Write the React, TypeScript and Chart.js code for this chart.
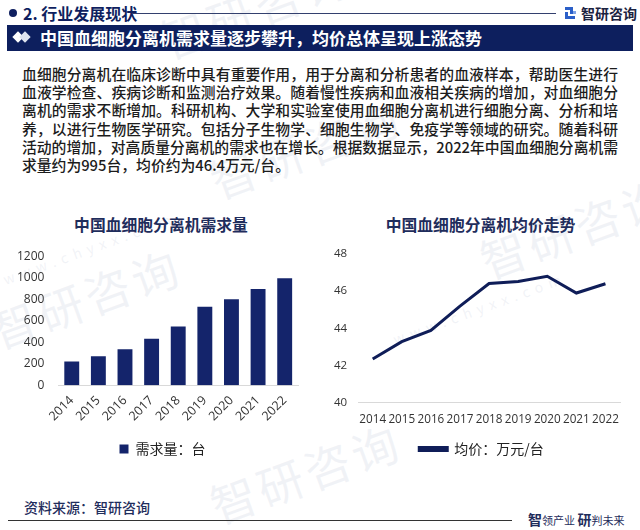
import React, { useEffect, useRef } from "react";
import { Chart, registerables } from "chart.js";

Chart.register(...registerables);

const years = ["2014", "2015", "2016", "2017", "2018", "2019", "2020", "2021", "2022"];
const demandValues = [221, 268, 335, 433, 546, 729, 799, 894, 995];
const priceValues = [42.36, 43.29, 43.89, 45.2, 46.41, 46.52, 46.8, 45.9, 46.4];
const demandLabel = "需求量：台";
const priceLabel = "均价：万元/台";
const barTitle = "中国血细胞分离机需求量";
const lineTitle = "中国血细胞分离机均价走势";
const paragraphLines = [
  "血细胞分离机在临床诊断中具有重要作用，用于分离和分析患者的血液样本，帮助医生进行",
  "血液学检查、疾病诊断和监测治疗效果。随着慢性疾病和血液相关疾病的增加，对血细胞分",
  "离机的需求不断增加。科研机构、大学和实验室使用血细胞分离机进行细胞分离、分析和培",
  "养，以进行生物医学研究。包括分子生物学、细胞生物学、免疫学等领域的研究。随着科研",
  "活动的增加，对高质量分离机的需求也在增长。根据数据显示，2022年中国血细胞分离机需",
  "求量约为995台，均价约为46.4万元/台。",
];

const NAVY = "#0f1f5f";
const CJK = '"Noto Sans CJK SC", "Noto Sans", sans-serif';
const NUM = '"Open Sans", "Noto Sans", sans-serif';

const legendShift = {
  id: "legendShift",
  afterLayout(chart: any, _args: any, opts: any) {
    const l = chart.legend;
    if (l && opts && opts.dx) {
      l.left += opts.dx;
      l.right += opts.dx;
    }
  },
};

function BarChart() {
  const ref = useRef<HTMLCanvasElement | null>(null);
  useEffect(() => {
    if (!ref.current) return;
    const chart = new Chart(ref.current, {
      type: "bar",
      data: {
        labels: years,
        datasets: [
          {
            label: demandLabel,
            data: demandValues,
            backgroundColor: "#14246b",
            barPercentage: 0.56,
            categoryPercentage: 1,
          },
        ],
      },
      plugins: [legendShift],
      options: {
        animation: false,
        responsive: false,
        maintainAspectRatio: false,
        layout: { padding: { left: 3, right: 22, top: 2, bottom: 4 } },
        plugins: {
          title: { display: false },
          tooltip: { enabled: false },
          legendShift: { dx: 12 },
          legend: {
            position: "bottom",
            labels: {
              boxWidth: 9,
              boxHeight: 9,
              padding: 10,
              color: "#222",
              font: { family: CJK, size: 14 },
            },
          },
        } as any,
        scales: {
          x: {
            grid: { display: false, drawTicks: false },
            border: { display: true, color: "#d9d9d9" },
            afterFit: (scale: any) => {
              scale.paddingLeft = 0;
            },
            ticks: {
              color: "#333",
              font: { family: NUM, size: 12.5 },
              minRotation: 45,
              maxRotation: 45,
              autoSkip: false,
              padding: 8,
            },
          },
          y: {
            min: 0,
            max: 1200,
            grid: { display: false, drawTicks: false },
            border: { display: false },
            ticks: {
              stepSize: 200,
              color: "#333",
              padding: 14,
              font: { family: NUM, size: 12 },
              callback: (v: any) => String(v),
            },
          },
        },
      },
    });
    return () => chart.destroy();
  }, []);
  return <canvas ref={ref} width={320} height={235} style={{ width: 320, height: 235, display: "block" }} />;
}

function LineChart() {
  const ref = useRef<HTMLCanvasElement | null>(null);
  useEffect(() => {
    if (!ref.current) return;
    const chart = new Chart(ref.current, {
      type: "line",
      data: {
        labels: years,
        datasets: [
          {
            label: priceLabel,
            data: priceValues,
            borderColor: "#0f1d58",
            backgroundColor: "#0f1d58",
            borderWidth: 3,
            pointRadius: 0,
            tension: 0,
          },
        ],
      },
      plugins: [legendShift],
      options: {
        animation: false,
        responsive: false,
        maintainAspectRatio: false,
        layout: { padding: { left: 3, right: 20, top: 11, bottom: 4 } },
        plugins: {
          tooltip: { enabled: false },
          legendShift: { dx: 10 },
          legend: {
            position: "bottom",
            labels: {
              boxWidth: 28,
              boxHeight: 3,
              padding: 5,
              color: "#222",
              font: { family: CJK, size: 14 },
            },
          },
        } as any,
        scales: {
          x: {
            offset: true,
            grid: { display: false, drawTicks: false },
            border: { display: true, color: "#d9d9d9" },
            ticks: {
              color: "#333",
              font: { family: NUM, size: 11.7 },
              maxRotation: 0,
              autoSkip: false,
              padding: 10,
            },
          },
          y: {
            min: 40,
            max: 48,
            grid: { display: false, drawTicks: false },
            border: { display: false },
            ticks: {
              stepSize: 2,
              color: "#333",
              padding: 11,
              font: { family: NUM, size: 11.5 },
            },
          },
        },
      },
    });
    return () => chart.destroy();
  }, []);
  return <canvas ref={ref} width={320} height={234} style={{ width: 320, height: 234, display: "block" }} />;
}

function Watermark({ x, y, size, text, rot }: { x: number; y: number; size: number; text: string; rot: number }) {
  return (
    <div
      style={{
        position: "absolute",
        left: x,
        top: y,
        fontSize: size,
        fontFamily: CJK,
        color: "rgba(205,212,226,0.28)",
        transform: `rotate(${rot}deg)`,
        transformOrigin: "left top",
        whiteSpace: "nowrap",
        pointerEvents: "none",
        letterSpacing: size > 30 ? 4 : 6,
      }}
    >
      {text}
    </div>
  );
}

export default function App() {
  return (
    <div
      style={{
        position: "absolute",
        left: 0,
        top: 0,
        width: 640,
        height: 530,
        background: "#ffffff",
        overflow: "hidden",
        fontFamily: CJK,
      }}
    >
      {/* watermarks */}
      <Watermark x={150} y={10} size={46} text="智研咨询" rot={-20} />
      <Watermark x={200} y={150} size={46} text="智研咨询" rot={-20} />
      <Watermark x={-20} y={300} size={46} text="智研咨询" rot={-20} />
      <Watermark x={470} y={230} size={46} text="智研咨询" rot={-20} />
      <Watermark x={200} y={475} size={46} text="智研咨询" rot={-20} />
      <Watermark x={0} y={270} size={14} text="www.chyxx.com" rot={-20} />
      <Watermark x={390} y={330} size={14} text="www.chyxx.com" rot={-20} />

      {/* header */}
      <div style={{ position: "absolute", left: 9, top: 9, width: 8, height: 8, borderRadius: 4, background: NAVY }} />
      <div
        style={{
          position: "absolute",
          left: 23,
          top: 2,
          fontSize: 16,
          fontWeight: 700,
          color: NAVY,
          lineHeight: "22px",
          whiteSpace: "nowrap",
        }}
      >
        2. 行业发展现状
      </div>
      <div style={{ position: "absolute", left: 132, top: 13, width: 424, height: 1, background: "#33406e" }} />
      <div style={{ position: "absolute", left: 565, top: 7, width: 11, height: 12 }}>
        <div style={{ position: "absolute", left: 0, top: 0, width: 8, height: 3, background: "#2b5fc8" }} />
        <div style={{ position: "absolute", left: 5, top: 0, width: 3, height: 7, background: "#2b5fc8" }} />
        <div style={{ position: "absolute", left: 0, top: 5, width: 3, height: 7, background: "#2b5fc8" }} />
        <div style={{ position: "absolute", left: 0, top: 9, width: 10, height: 3, background: "#2b5fc8" }} />
        <div style={{ position: "absolute", left: 8, top: 4, width: 3, height: 3, background: "#7fa3e6" }} />
      </div>
      <div
        style={{
          position: "absolute",
          left: 581,
          top: 3,
          fontSize: 14,
          fontWeight: 700,
          color: "#1b2240",
          lineHeight: "20px",
          whiteSpace: "nowrap",
        }}
      >
        智研咨询
      </div>

      {/* banner */}
      <div style={{ position: "absolute", left: 7, top: 25, width: 626, height: 26, background: "#0d1f5e" }} />
      <div
        style={{
          position: "absolute",
          left: 14,
          top: 33,
          width: 8,
          height: 8,
          background: "#ffffff",
          transform: "rotate(45deg)",
        }}
      />
      <div
        style={{
          position: "absolute",
          left: 21,
          top: 33,
          width: 8,
          height: 8,
          background: "#dfe4ef",
          transform: "rotate(45deg)",
        }}
      />
      <div
        style={{
          position: "absolute",
          left: 40,
          top: 25,
          fontSize: 17,
          fontWeight: 700,
          color: "#ffffff",
          lineHeight: "26px",
          whiteSpace: "nowrap",
        }}
      >
        中国血细胞分离机需求量逐步攀升，均价总体呈现上涨态势
      </div>

      {/* paragraph */}
      {paragraphLines.map((line, i) => (
        <div
          key={i}
          style={{
            position: "absolute",
            left: 22,
            top: 65 + i * 18.2,
            width: 596,
            fontSize: 14.8,
            fontWeight: 500,
            color: "#1c1c1c",
            lineHeight: "18.2px",
            whiteSpace: "nowrap",
            textAlign: i < paragraphLines.length - 1 ? "justify" : "left",
            textAlignLast: i < paragraphLines.length - 1 ? "justify" : "left",
          }}
        >
          {line}
        </div>
      ))}

      {/* chart titles */}
      <div
        style={{
          position: "absolute",
          left: 0,
          top: 213,
          width: 322,
          textAlign: "center",
          fontSize: 15.8,
          fontWeight: 700,
          color: "#1f2d5c",
          lineHeight: "24px",
        }}
      >
        {barTitle}
      </div>
      <div
        style={{
          position: "absolute",
          left: 320,
          top: 213,
          width: 321,
          textAlign: "center",
          fontSize: 15.8,
          fontWeight: 700,
          color: "#1f2d5c",
          lineHeight: "24px",
        }}
      >
        {lineTitle}
      </div>

      {/* charts */}
      <div style={{ position: "absolute", left: 0, top: 235, width: 320, height: 235 }}>
        <BarChart />
      </div>
      <div style={{ position: "absolute", left: 320, top: 236, width: 320, height: 234 }}>
        <LineChart />
      </div>

      {/* footer */}
      <div
        style={{
          position: "absolute",
          left: 24,
          top: 497,
          fontSize: 14,
          fontWeight: 500,
          color: "#1f2d5c",
          lineHeight: "20px",
          whiteSpace: "nowrap",
        }}
      >
        资料来源：智研咨询
      </div>
      <div style={{ position: "absolute", left: 8, top: 520, width: 504, height: 1, background: "#333" }} />
      <div
        style={{
          position: "absolute",
          left: 528,
          top: 509,
          lineHeight: "18px",
          whiteSpace: "nowrap",
          color: "#1f2d5c",
        }}
      >
        <span style={{ fontSize: 14, fontWeight: 700 }}>智</span>
        <span style={{ fontSize: 11 }}>领产业 </span>
        <span style={{ fontSize: 14, fontWeight: 700 }}>研</span>
        <span style={{ fontSize: 11 }}>判未来</span>
      </div>
    </div>
  );
}
